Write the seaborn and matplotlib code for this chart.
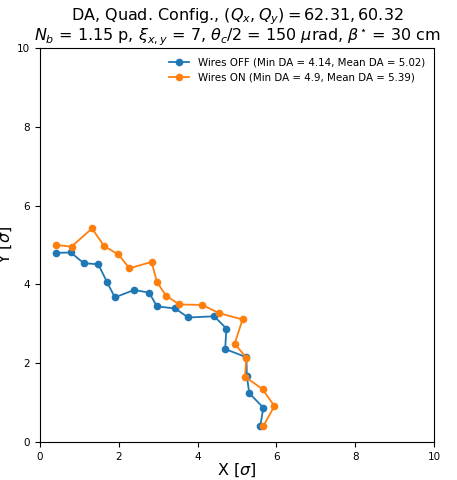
import matplotlib
matplotlib.use("Agg")
import matplotlib.pyplot as plt
import seaborn as sns
import pandas as pd

# Dynamic aperture boundary points (in units of beam sigma)
x_off = [0.41, 0.78, 1.11, 1.48, 1.70, 1.90, 2.39, 2.77, 2.97, 3.43, 3.76, 4.42, 4.73, 4.70,
         5.24, 5.25, 5.31, 5.67, 5.59]
y_off = [4.80, 4.81, 4.54, 4.51, 4.06, 3.67, 3.86, 3.79, 3.44, 3.39, 3.16, 3.19, 2.88, 2.36,
         2.15, 1.68, 1.24, 0.87, 0.41]

x_on = [0.40, 0.80, 1.32, 1.63, 1.99, 2.27, 2.83, 2.97, 3.20, 3.54, 4.11, 4.55, 5.14, 4.94,
        5.24, 5.20, 5.65, 5.95, 5.67]
y_on = [5.00, 4.96, 5.42, 4.97, 4.76, 4.41, 4.57, 4.06, 3.71, 3.49, 3.48, 3.27, 3.11, 2.49,
        2.14, 1.66, 1.34, 0.91, 0.41]

label_off = "Wires OFF (Min DA = 4.14, Mean DA = 5.02)"
label_on = "Wires ON (Min DA = 4.9, Mean DA = 5.39)"

df = pd.concat([
    pd.DataFrame({"x": x_off, "y": y_off, "case": label_off}),
    pd.DataFrame({"x": x_on, "y": y_on, "case": label_on}),
], ignore_index=True)

plt.rcParams.update(plt.rcParamsDefault)
fig = plt.figure(figsize=(4.57, 4.80), dpi=100)
ax = fig.add_axes([40 / 457, 1 - 442 / 480, 394 / 457, 394 / 480])

sns.lineplot(data=df, x="x", y="y", hue="case", sort=False, marker="o",
             markersize=5.5, markeredgewidth=0, linewidth=1.3,
             palette=["#1f77b4", "#ff7f0e"], ax=ax, estimator=None)

ax.set_xlim(0, 10)
ax.set_ylim(0, 10)
ax.set_xticks([0, 2, 4, 6, 8, 10])
ax.set_yticks([0, 2, 4, 6, 8, 10])
ax.tick_params(labelsize=7.5)
ax.set_xlabel(r"X [$\sigma$]", fontsize=11.5, labelpad=0)
ax.set_ylabel(r"Y [$\sigma$]", fontsize=11.5, labelpad=2)
ax.set_title("DA, Quad. Config., $(Q_x, Q_y) = 62.31, 60.32$\n"
             r"$N_b$ = 1.15 p, $\xi_{x,y}$ = 7, $\theta_c/2$ = 150 $\mu$rad, $\beta^{\star}$ = 30 cm",
             fontsize=11.5, pad=5, linespacing=0.95)
ax.legend(loc="upper right", frameon=False, fontsize=7.4, handlelength=2.0)

fig.savefig("out.png", dpi=100)
